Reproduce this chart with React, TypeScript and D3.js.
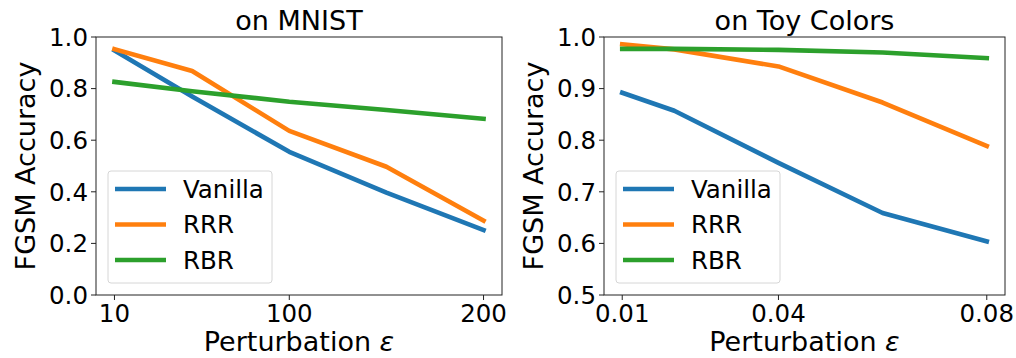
import React from "react";
import * as d3 from "d3";

const seriesNames = ["Vanilla", "RRR", "RBR"];
const seriesColors = ["#1f77b4", "#ff7f0e", "#2ca02c"];

const mnistX = [10, 50, 100, 150, 200];
const mnistVanilla = [0.948, 0.769, 0.555, 0.397, 0.252];
const mnistRRR = [0.953, 0.868, 0.636, 0.497, 0.288];
const mnistRBR = [0.826, 0.79, 0.749, 0.717, 0.683];
const mnistXTicks = [10, 100, 200];
const mnistYTicks = [0, 0.2, 0.4, 0.6, 0.8, 1.0];

const toyX = [0.01, 0.02, 0.04, 0.06, 0.08];
const toyVanilla = [0.892, 0.857, 0.756, 0.659, 0.604];
const toyRRR = [0.986, 0.976, 0.943, 0.873, 0.789];
const toyRBR = [0.977, 0.977, 0.975, 0.97, 0.959];
const toyXTicks = [0.01, 0.04, 0.08];
const toyYTicks = [0.5, 0.6, 0.7, 0.8, 0.9, 1.0];

const FONT = "'DejaVu Sans', sans-serif";
const FS = 24.5;
const FL = 27;

type PanelProps = {
  left: number;
  right: number;
  top: number;
  bottom: number;
  xs: number[];
  series: number[][];
  xTicks: number[];
  yTicks: number[];
  yDomain: [number, number];
  xFmt: (v: number) => string;
  yFmt: (v: number) => string;
  title: string;
  yLabelX: number;
  legendX: number;
};

function Panel(p: PanelProps) {
  const xmin = d3.min(p.xs) as number;
  const xmax = d3.max(p.xs) as number;
  const pad = (xmax - xmin) * 0.05;
  const x = d3.scaleLinear().domain([xmin - pad, xmax + pad]).range([p.left, p.right]);
  const y = d3.scaleLinear().domain(p.yDomain).range([p.bottom, p.top]);
  const line = d3
    .line<[number, number]>()
    .x((d) => x(d[0]))
    .y((d) => y(d[1]));
  const cx = (p.left + p.right) / 2;
  const cy = (p.top + p.bottom) / 2;
  const lgTop = 171;
  const lgW = 164;
  const lgH = 112;
  return (
    <g>
      <text x={cx} y={30} textAnchor="middle" fontFamily={FONT} fontSize={FL} fill="#000">
        {p.title}
      </text>
      {p.series.map((vals, i) => (
        <path
          key={i}
          d={line(vals.map((v, j) => [p.xs[j], v] as [number, number])) || ""}
          fill="none"
          stroke={seriesColors[i]}
          strokeWidth={4.6}
          strokeLinejoin="round"
          strokeLinecap="square"
        />
      ))}
      <rect
        x={p.left}
        y={p.top}
        width={p.right - p.left}
        height={p.bottom - p.top}
        fill="none"
        stroke="#222"
        strokeWidth={1}
      />
      {p.yTicks.map((t, i) => (
        <g key={i}>
          <line x1={p.left - 5} x2={p.left} y1={y(t)} y2={y(t)} stroke="#222" strokeWidth={1} />
          <text
            x={p.left - 8}
            y={y(t)}
            dy="0.36em"
            textAnchor="end"
            fontFamily={FONT}
            fontSize={FS}
            fill="#000"
          >
            {p.yFmt(t)}
          </text>
        </g>
      ))}
      {p.xTicks.map((t, i) => (
        <g key={i}>
          <line x1={x(t)} x2={x(t)} y1={p.bottom} y2={p.bottom + 5} stroke="#222" strokeWidth={1} />
          <text
            x={x(t)}
            y={322}
            textAnchor="middle"
            fontFamily={FONT}
            fontSize={FS}
            fill="#000"
          >
            {p.xFmt(t)}
          </text>
        </g>
      ))}
      <text x={cx} y={351} textAnchor="middle" fontFamily={FONT} fontSize={FL} fill="#000">
        Perturbation <tspan fontStyle="italic">ε</tspan>
      </text>
      <text
        transform={`translate(${p.yLabelX},${cy}) rotate(-90)`}
        textAnchor="middle"
        fontFamily={FONT}
        fontSize={FL}
        fill="#000"
      >
        FGSM Accuracy
      </text>
      <g>
        <rect
          x={p.legendX}
          y={lgTop}
          width={lgW}
          height={lgH}
          rx={3}
          fill="#fff"
          fillOpacity={0.8}
          stroke="#d6d6d6"
          strokeWidth={1}
        />
        {seriesNames.map((n, i) => {
          const ry = 189 + i * 35.5;
          return (
            <g key={n}>
              <line
                x1={p.legendX + 7}
                x2={p.legendX + 58}
                y1={ry}
                y2={ry}
                stroke={seriesColors[i]}
                strokeWidth={4.6}
              />
              <text
                x={p.legendX + 75}
                y={ry}
                dy="0.36em"
                fontFamily={FONT}
                fontSize={FS}
                fill="#000"
              >
                {n}
              </text>
            </g>
          );
        })}
      </g>
    </g>
  );
}

export default function App() {
  return (
    <svg
      width={1016}
      height={358}
      style={{ position: "absolute", left: 0, top: 0, background: "#fff" }}
    >
      <rect x={0} y={0} width={1016} height={358} fill="#fff" />
      <Panel
        left={96}
        right={502}
        top={37}
        bottom={295}
        xs={mnistX}
        series={[mnistVanilla, mnistRRR, mnistRBR]}
        xTicks={mnistXTicks}
        yTicks={mnistYTicks}
        yDomain={[0, 1]}
        xFmt={(v) => String(v)}
        yFmt={(v) => v.toFixed(1)}
        title="on MNIST"
        yLabelX={35}
        legendX={108}
      />
      <Panel
        left={604}
        right={1005}
        top={37}
        bottom={295}
        xs={toyX}
        series={[toyVanilla, toyRRR, toyRBR]}
        xTicks={toyXTicks}
        yTicks={toyYTicks}
        yDomain={[0.5, 1]}
        xFmt={(v) => v.toFixed(2)}
        yFmt={(v) => v.toFixed(1)}
        title="on Toy Colors"
        yLabelX={543}
        legendX={616}
      />
    </svg>
  );
}
